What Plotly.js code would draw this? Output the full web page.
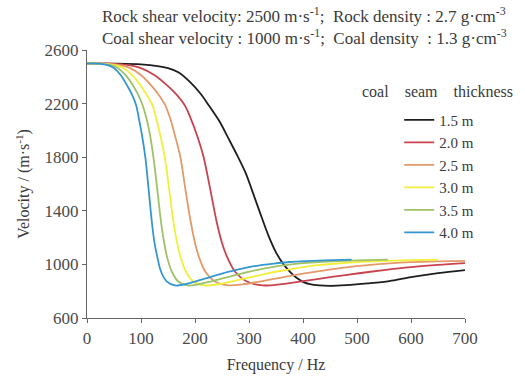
<!DOCTYPE html>
<html>
<head>
<meta charset="utf-8">
<script src="https://cdn.plot.ly/plotly-3.0.1.min.js"></script>
<style>
  html, body { margin: 0; padding: 0; background: #fff; }
  #chart { width: 525px; height: 377px; }
</style>
</head>
<body>
<div id="chart"></div>
<script>
// ---- data ----
const seriesNames = ["1.5 m", "2.0 m", "2.5 m", "3.0 m", "3.5 m", "4.0 m"];
const seriesColors = ["#1e1e1e", "#c9434f", "#e39a6a", "#f2ee3c", "#9fc266", "#3597cf"];

const freq_15 = [0, 50, 100, 150, 170, 191, 210, 225, 245, 262, 278, 293, 305, 320, 336, 350, 364, 376, 388, 400, 413, 430, 450, 480, 520, 560, 600, 650, 700];
const vel_15  = [2500, 2499, 2492, 2465, 2432, 2360, 2275, 2190, 2070, 1940, 1815, 1690, 1560, 1390, 1215, 1090, 1000, 945, 900, 870, 852, 843, 840, 845, 858, 875, 905, 935, 958];

const freq_20 = [0, 50, 80, 100, 126, 150, 165, 181, 192, 204, 216, 228, 240, 250, 259, 274, 296, 326, 360, 400, 450, 500, 550, 600, 650, 700];
const vel_20  = [2500, 2497, 2485, 2465, 2410, 2330, 2270, 2187, 2090, 1960, 1800, 1565, 1320, 1160, 1060, 947, 872, 843, 853, 875, 905, 932, 958, 980, 997, 1010];

const freq_25 = [0, 40, 64, 80, 101, 120, 132, 145, 154, 163, 173, 182, 192, 200, 207, 219, 237, 261, 288, 320, 360, 400, 440, 480, 520, 560, 600, 650, 700];
const vel_25  = [2500, 2497, 2485, 2465, 2410, 2330, 2270, 2187, 2090, 1960, 1800, 1565, 1320, 1160, 1060, 947, 872, 844, 851, 872, 902, 931, 956, 978, 995, 1008, 1017, 1023, 1027];

const freq_30 = [0, 33, 53, 67, 84, 100, 110, 121, 128, 136, 144, 152, 160, 167, 173, 183, 197, 217, 240, 267, 300, 333, 367, 400, 433, 467, 500, 542, 583, 650];
const vel_30  = [2500, 2497, 2486, 2466, 2410, 2332, 2270, 2190, 2090, 1960, 1800, 1565, 1320, 1160, 1060, 947, 872, 843, 850, 872, 902, 932, 957, 980, 996, 1008, 1018, 1024, 1029, 1036];

const freq_35 = [0, 29, 46, 57, 72, 86, 94, 103, 110, 117, 123, 130, 137, 143, 148, 157, 169, 186, 206, 229, 257, 286, 314, 343, 371, 400, 429, 464, 500, 557];
const vel_35  = [2500, 2497, 2486, 2466, 2410, 2330, 2272, 2188, 2090, 1960, 1800, 1565, 1320, 1160, 1060, 947, 872, 843, 851, 872, 902, 932, 958, 980, 996, 1009, 1018, 1025, 1030, 1036];

const freq_40 = [0, 25, 40, 50, 63, 75, 83, 91, 96, 102, 108, 114, 120, 125, 130, 137, 148, 163, 180, 200, 225, 250, 275, 300, 325, 350, 375, 406, 438, 490];
const vel_40  = [2500, 2497, 2486, 2466, 2410, 2330, 2270, 2187, 2090, 1960, 1800, 1565, 1320, 1160, 1060, 947, 872, 843, 850, 872, 902, 932, 957, 979, 996, 1008, 1018, 1025, 1030, 1036];

const xTicks = [0, 100, 200, 300, 400, 500, 600, 700];
const yTicks = [600, 1000, 1400, 1800, 2200, 2600];

const freqs = [freq_15, freq_20, freq_25, freq_30, freq_35, freq_40];
const vels  = [vel_15, vel_20, vel_25, vel_30, vel_35, vel_40];

// ---- build traces ----
const SERIF = '"Liberation Serif", "Times New Roman", "DejaVu Serif", serif';
const traces = seriesNames.map((name, i) => ({
  type: 'scatter',
  mode: 'lines',
  name: name,
  x: freqs[i],
  y: vels[i],
  line: { color: seriesColors[i], width: 1.8, shape: 'spline', smoothing: 0.9 },
  hoverinfo: 'skip'
}));

const layout = {
  width: 525,
  height: 377,
  margin: { l: 87, r: 60, t: 50, b: 59, pad: 0 },
  paper_bgcolor: '#ffffff',
  plot_bgcolor: '#ffffff',
  font: { family: SERIF, color: '#3a3a3a', size: 16 },
  showlegend: true,
  legend: {
    x: 0.826, xanchor: 'left',
    y: 0.80, yanchor: 'top',
    bgcolor: 'rgba(0,0,0,0)',
    borderwidth: 0,
    font: { family: SERIF, size: 15, color: '#3a3a3a' },
    tracegroupgap: 0
  },
  xaxis: {
    range: [0, 700],
    tickvals: xTicks,
    ticktext: xTicks.map(String),
    ticks: 'outside', ticklen: 4, tickwidth: 1, tickcolor: '#666',
    showline: true, linecolor: '#666', linewidth: 1.2,
    showgrid: false, zeroline: false,
    tickfont: { family: SERIF, size: 17, color: '#4a4a4a' },
    title: { text: 'Frequency / Hz', font: { family: SERIF, size: 16, color: '#3a3a3a' }, standoff: 12 }
  },
  yaxis: {
    range: [600, 2600],
    tickvals: yTicks,
    ticktext: yTicks.map(String),
    ticks: 'outside', ticklen: 4, tickwidth: 1, tickcolor: '#666',
    showline: true, linecolor: '#666', linewidth: 1.2,
    showgrid: false, zeroline: false,
    tickfont: { family: SERIF, size: 17, color: '#4a4a4a' },
    title: { text: 'Velocity / (m·s<sup>-1</sup>)', font: { family: SERIF, size: 16, color: '#3a3a3a' }, standoff: 10 }
  },
  annotations: [
    {
      xref: 'paper', yref: 'paper',
      x: (100 - 87) / 378, y: (318 - 15) / 268,
      xanchor: 'left', yanchor: 'middle',
      showarrow: false,
      text: 'Rock shear velocity: 2500 m·s<sup>-1</sup>;  Rock density : 2.7 g·cm<sup>-3</sup>',
      font: { family: SERIF, size: 17, color: '#3a3a3a' }
    },
    {
      xref: 'paper', yref: 'paper',
      x: (100 - 87) / 378, y: (318 - 37) / 268,
      xanchor: 'left', yanchor: 'middle',
      showarrow: false,
      text: 'Coal shear velocity : 1000 m·s<sup>-1</sup>;  Coal density  : 1.3 g·cm<sup>-3</sup>',
      font: { family: SERIF, size: 17, color: '#3a3a3a' }
    },
    {
      xref: 'paper', yref: 'paper',
      x: (437 - 87) / 378, y: (318 - 91) / 268,
      xanchor: 'center', yanchor: 'middle',
      showarrow: false,
      text: 'coal\u2003seam\u2003thickness',
      font: { family: SERIF, size: 16, color: '#3a3a3a' }
    }
  ]
};

Plotly.newPlot('chart', traces, layout, { staticPlot: true, displayModeBar: false });
</script>
</body>
</html>
